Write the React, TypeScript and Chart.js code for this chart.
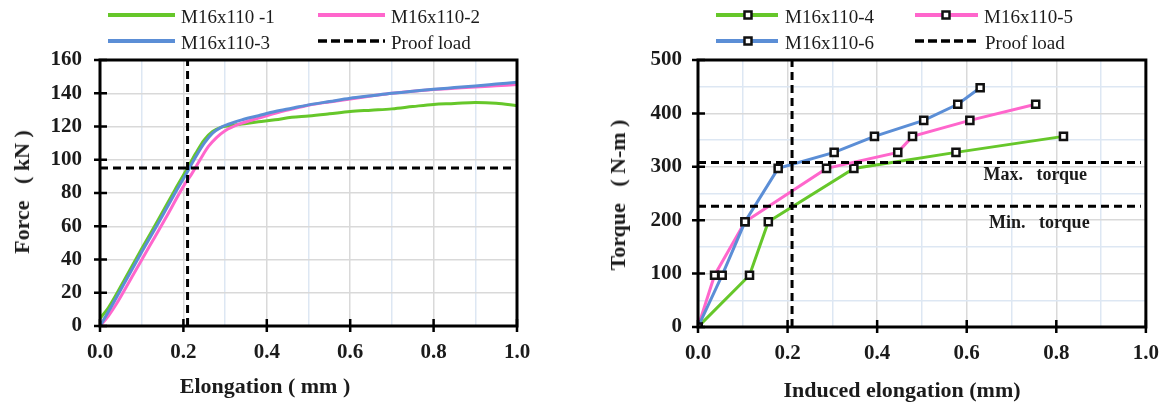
import React, { useEffect, useRef } from "react";
import { Chart, registerables } from "chart.js";

Chart.register(...registerables);

const FONT = "'Liberation Serif', 'Times New Roman', Times, serif";

// ---------- Left chart: Force vs Elongation ----------
const elong1 = [0, 0.02, 0.06, 0.1, 0.14, 0.18, 0.21, 0.23, 0.25, 0.27, 0.29, 0.31, 0.34, 0.38, 0.42, 0.46, 0.5, 0.55, 0.6, 0.65, 0.7, 0.75, 0.8, 0.85, 0.9, 0.95, 1.0];
const force1 = [4.5, 11, 28.5, 46.5, 64, 82, 95, 104, 112, 117, 119.5, 120.5, 121.5, 122.8, 124, 125.5, 126.3, 127.6, 129, 129.8, 130.6, 132, 133.3, 133.8, 134.5, 134, 132.5];

const elong2 = [0, 0.02, 0.04, 0.08, 0.12, 0.16, 0.2, 0.22, 0.24, 0.26, 0.28, 0.3, 0.32, 0.34, 0.38, 0.42, 0.46, 0.5, 0.55, 0.6, 0.65, 0.7, 0.75, 0.8, 0.85, 0.9, 0.95, 1.0];
const force2 = [0, 6, 13.5, 31, 48.5, 66, 84, 91.5, 100, 108, 113.5, 117.5, 120, 122, 125, 128, 130.5, 132.8, 134.8, 136.6, 138.3, 140, 141.2, 142.2, 143, 143.8, 144.5, 145.2];

const elong3 = [0, 0.02, 0.06, 0.1, 0.14, 0.18, 0.21, 0.23, 0.25, 0.27, 0.29, 0.31, 0.34, 0.38, 0.42, 0.46, 0.5, 0.55, 0.6, 0.65, 0.7, 0.75, 0.8, 0.85, 0.9, 0.95, 1.0];
const force3 = [0, 8.5, 26.5, 44.5, 62, 80, 93, 102, 110, 116, 119.5, 121.5, 124, 126.5, 129, 131, 133, 135, 137, 138.5, 140, 141.2, 142.4, 143.4, 144.4, 145.5, 146.6];

const proofLoadForce = 95;
const proofElongLeft = 0.21;
const proofLoadEnd = 0.988;
const leftXMajor = [0, 0.2, 0.4, 0.6, 0.8, 1.0];
const leftYMajor = [0, 20, 40, 60, 80, 100, 120, 140, 160];

// ---------- Right chart: Torque vs Induced elongation ----------
const induced4 = [0, 0.115, 0.157, 0.348, 0.576, 0.816];
const torque4 = [0, 97, 197, 297, 327, 357];

const induced5 = [0, 0.037, 0.105, 0.287, 0.446, 0.479, 0.607, 0.754];
const torque5 = [0, 97, 197, 297, 327, 357, 387, 417];

const induced6 = [0, 0.054, 0.105, 0.179, 0.304, 0.394, 0.504, 0.58, 0.63];
const torque6 = [0, 97, 197, 297, 327, 357, 387, 417, 448];

const maxTorque = 308;
const minTorque = 226;
const proofElongRight = 0.21;
const torqueLineEnd = 0.989;
const rightXMajor = [0, 0.2, 0.4, 0.6, 0.8, 1.0];
const rightYMajor = [0, 100, 200, 300, 400, 500];

const GREEN = "#66c72a";
const PINK = "#ff66cc";
const BLUE = "#5b8ed6";
const GRID_GRAY = "#d9d9d9";
const GRID_BLUE = "#dde7f3";
const TEXT = "#1b1b1b";

const pts = (xs: number[], ys: number[]) => xs.map((x, i) => ({ x, y: ys[i] }));

const framePlugin = {
  id: "frame",
  afterDraw(chart: any, _args: any, opts: any) {
    const { ctx, chartArea: a, scales } = chart;
    ctx.save();
    ctx.strokeStyle = "#000";
    ctx.lineWidth = 3;
    ctx.strokeRect(a.left, a.top, a.right - a.left, a.bottom - a.top);
    ctx.lineWidth = 2.5;
    ctx.beginPath();
    for (const v of opts.xTicks || []) {
      const px = scales.x.getPixelForValue(v);
      ctx.moveTo(px, a.bottom - 7);
      ctx.lineTo(px, a.bottom + 6);
    }
    for (const v of opts.yTicks || []) {
      const py = scales.y.getPixelForValue(v);
      ctx.moveTo(a.left - 6, py);
      ctx.lineTo(a.left + 7, py);
    }
    ctx.stroke();
    for (const n of opts.notes || []) {
      ctx.font = `bold 18px ${FONT}`;
      ctx.fillStyle = TEXT;
      ctx.textAlign = "center";
      ctx.textBaseline = "middle";
      ctx.fillText(n.text, scales.x.getPixelForValue(n.x), scales.y.getPixelForValue(n.y));
    }
    ctx.restore();
  },
};

const tickFont = { family: FONT, size: 21, weight: "bold" as const };

function xScale(padding: number, height: number) {
  return {
    type: "linear" as const,
    min: 0,
    max: 1,
    afterFit: (s: any) => {
      s.height = height;
    },
    ticks: {
      stepSize: 0.1,
      autoSkip: false,
      maxRotation: 0,
      padding,
      color: TEXT,
      font: tickFont,
      callback: (v: any) => {
        const k = Math.round(Number(v) * 10);
        return k % 2 === 0 ? (k / 10).toFixed(1) : "";
      },
    },
    grid: {
      drawTicks: false,
      lineWidth: 1.5,
      color: (c: any) => (c.tick && Math.round(c.tick.value * 10) % 2 ? GRID_BLUE : GRID_GRAY),
    },
    border: { display: false },
  };
}

function LeftChart() {
  const ref = useRef<HTMLCanvasElement>(null);
  useEffect(() => {
    const chart = new Chart(ref.current!, {
      type: "line",
      data: {
        datasets: [
          { label: "Proof load", data: [{ x: 0, y: proofLoadForce }, { x: proofLoadEnd, y: proofLoadForce }], borderColor: "#000", borderWidth: 3, borderDash: [8, 5], pointRadius: 0 },
          { label: "Proof load v", data: [{ x: proofElongLeft, y: 0 }, { x: proofElongLeft, y: 160 }], borderColor: "#000", borderWidth: 3, borderDash: [8, 5], pointRadius: 0 },
          { label: "M16x110-3", data: pts(elong3, force3), borderColor: BLUE, borderWidth: 3, pointRadius: 0, cubicInterpolationMode: "monotone" },
          { label: "M16x110-2", data: pts(elong2, force2), borderColor: PINK, borderWidth: 3, pointRadius: 0, cubicInterpolationMode: "monotone" },
          { label: "M16x110 -1", data: pts(elong1, force1), borderColor: GREEN, borderWidth: 3, pointRadius: 0, cubicInterpolationMode: "monotone" },
        ],
      },
      options: {
        animation: false,
        responsive: false,
        devicePixelRatio: 1,
        layout: { padding: { top: 60, right: 43, left: 0, bottom: 0 } },
        plugins: {
          legend: { display: false },
          tooltip: { enabled: false },
          frame: { xTicks: leftXMajor, yTicks: leftYMajor },
        } as any,
        scales: {
          x: xScale(14, 81),
          y: {
            type: "linear",
            min: 0,
            max: 160,
            afterFit: (s: any) => {
              s.width = 100;
            },
            ticks: { stepSize: 20, padding: 18, color: TEXT, font: tickFont },
            grid: { drawTicks: false, lineWidth: 1.5, color: GRID_GRAY },
            border: { display: false },
          },
        } as any,
      },
      plugins: [framePlugin],
    });
    return () => chart.destroy();
  }, []);
  return <canvas ref={ref} width={560} height={407} style={{ position: "absolute", left: 0, top: 0, width: 560, height: 407 }} />;
}

function RightChart() {
  const ref = useRef<HTMLCanvasElement>(null);
  useEffect(() => {
    const markers = { pointStyle: "rect" as const, pointRadius: 5, pointBorderWidth: 2.5, pointBorderColor: "#111", pointBackgroundColor: "#fff" };
    const chart = new Chart(ref.current!, {
      type: "line",
      data: {
        datasets: [
          { label: "Proof load", data: [{ x: 0, y: maxTorque }, { x: torqueLineEnd, y: maxTorque }], borderColor: "#000", borderWidth: 3, borderDash: [8, 5], pointRadius: 0 },
          { label: "Proof load min", data: [{ x: 0, y: minTorque }, { x: torqueLineEnd, y: minTorque }], borderColor: "#000", borderWidth: 3, borderDash: [8, 5], pointRadius: 0 },
          { label: "Proof load v", data: [{ x: proofElongRight, y: 0 }, { x: proofElongRight, y: 500 }], borderColor: "#000", borderWidth: 3, borderDash: [8, 5], pointRadius: 0 },
          { label: "M16x110-6", data: pts(induced6, torque6), borderColor: BLUE, borderWidth: 3, tension: 0, ...markers },
          { label: "M16x110-5", data: pts(induced5, torque5), borderColor: PINK, borderWidth: 3, tension: 0, ...markers },
          { label: "M16x110-4", data: pts(induced4, torque4), borderColor: GREEN, borderWidth: 3, tension: 0, ...markers },
        ],
      },
      options: {
        animation: false,
        responsive: false,
        devicePixelRatio: 1,
        layout: { padding: { top: 60, right: 25, left: 0, bottom: 0 } },
        plugins: {
          legend: { display: false },
          tooltip: { enabled: false },
          frame: {
            xTicks: rightXMajor,
            yTicks: rightYMajor,
            notes: [
              { text: "Max.   torque", x: 0.753, y: 284 },
              { text: "Min.   torque", x: 0.762, y: 194 },
            ],
          },
        } as any,
        scales: {
          x: xScale(14, 80),
          y: {
            type: "linear",
            min: 0,
            max: 500,
            afterFit: (s: any) => {
              s.width = 98;
            },
            ticks: {
              stepSize: 50,
              autoSkip: false,
              padding: 16,
              color: TEXT,
              font: tickFont,
              callback: (v: any) => (Math.round(Number(v)) % 100 === 0 ? String(Math.round(Number(v))) : ""),
            },
            grid: {
              drawTicks: false,
              lineWidth: 1.5,
              color: (c: any) => (c.tick && Math.round(c.tick.value) % 100 ? GRID_BLUE : GRID_GRAY),
            },
            border: { display: false },
          },
        } as any,
      },
      plugins: [framePlugin],
    });
    return () => chart.destroy();
  }, []);
  return <canvas ref={ref} width={573} height={407} style={{ position: "absolute", left: 600, top: 0, width: 573, height: 407 }} />;
}

type LegendItem = { label: string; color: string; x1: number; x2: number; y: number; textX: number; dashed?: boolean; marker?: number };

const legendItems: LegendItem[] = [
  { label: "M16x110 -1", color: GREEN, x1: 108, x2: 175, y: 15, textX: 181 },
  { label: "M16x110-2", color: PINK, x1: 318, x2: 385, y: 15, textX: 391 },
  { label: "M16x110-3", color: BLUE, x1: 108, x2: 175, y: 41, textX: 181 },
  { label: "Proof load", color: "#000", x1: 318, x2: 385, y: 41, textX: 391, dashed: true },
  { label: "M16x110-4", color: GREEN, x1: 716, x2: 778, y: 15, textX: 785, marker: 748 },
  { label: "M16x110-5", color: PINK, x1: 915, x2: 978, y: 15, textX: 984, marker: 946 },
  { label: "M16x110-6", color: BLUE, x1: 716, x2: 778, y: 41, textX: 785, marker: 748 },
  { label: "Proof load", color: "#000", x1: 915, x2: 978, y: 41, textX: 985, dashed: true },
];

const titleStyle: React.CSSProperties = {
  position: "absolute",
  fontFamily: FONT,
  fontWeight: "bold",
  fontSize: 22,
  lineHeight: "22px",
  color: TEXT,
  whiteSpace: "pre",
};

export default function App() {
  return (
    <div style={{ position: "fixed", left: 0, top: 0, width: 1173, height: 407, background: "#fff", overflow: "hidden" }}>
      <LeftChart />
      <RightChart />
      <svg width={1173} height={60} style={{ position: "absolute", left: 0, top: 0 }}>
        {legendItems.map((it, i) => (
          <g key={i}>
            <line
              x1={it.x1}
              x2={it.x2}
              y1={it.y}
              y2={it.y}
              stroke={it.color}
              strokeWidth={it.dashed ? 3.5 : 4}
              strokeDasharray={it.dashed ? "9 4" : undefined}
            />
            {it.marker !== undefined && (
              <rect x={it.marker - 3.5} y={it.y - 3.5} width={7} height={7} fill="#fff" stroke="#111" strokeWidth={2.5} />
            )}
          </g>
        ))}
      </svg>
      {legendItems.map((it, i) => (
        <div
          key={i}
          style={{
            position: "absolute",
            left: it.textX,
            top: it.y - 8,
            fontFamily: FONT,
            fontSize: 19,
            lineHeight: "19px",
            color: TEXT,
            whiteSpace: "pre",
          }}
        >
          {it.label}
        </div>
      ))}
      <div style={{ ...titleStyle, left: 265, top: 375, transform: "translateX(-50%)" }}>Elongation ( mm )</div>
      <div style={{ ...titleStyle, left: 902, top: 379, transform: "translateX(-50%)" }}>Induced elongation (mm)</div>
      <div style={{ ...titleStyle, left: 22, top: 192, transform: "translate(-50%, -50%) rotate(-90deg)" }}>Force   ( kN )</div>
      <div style={{ ...titleStyle, left: 618, top: 195, transform: "translate(-50%, -50%) rotate(-90deg)" }}>Torque   ( N-m )</div>
    </div>
  );
}
